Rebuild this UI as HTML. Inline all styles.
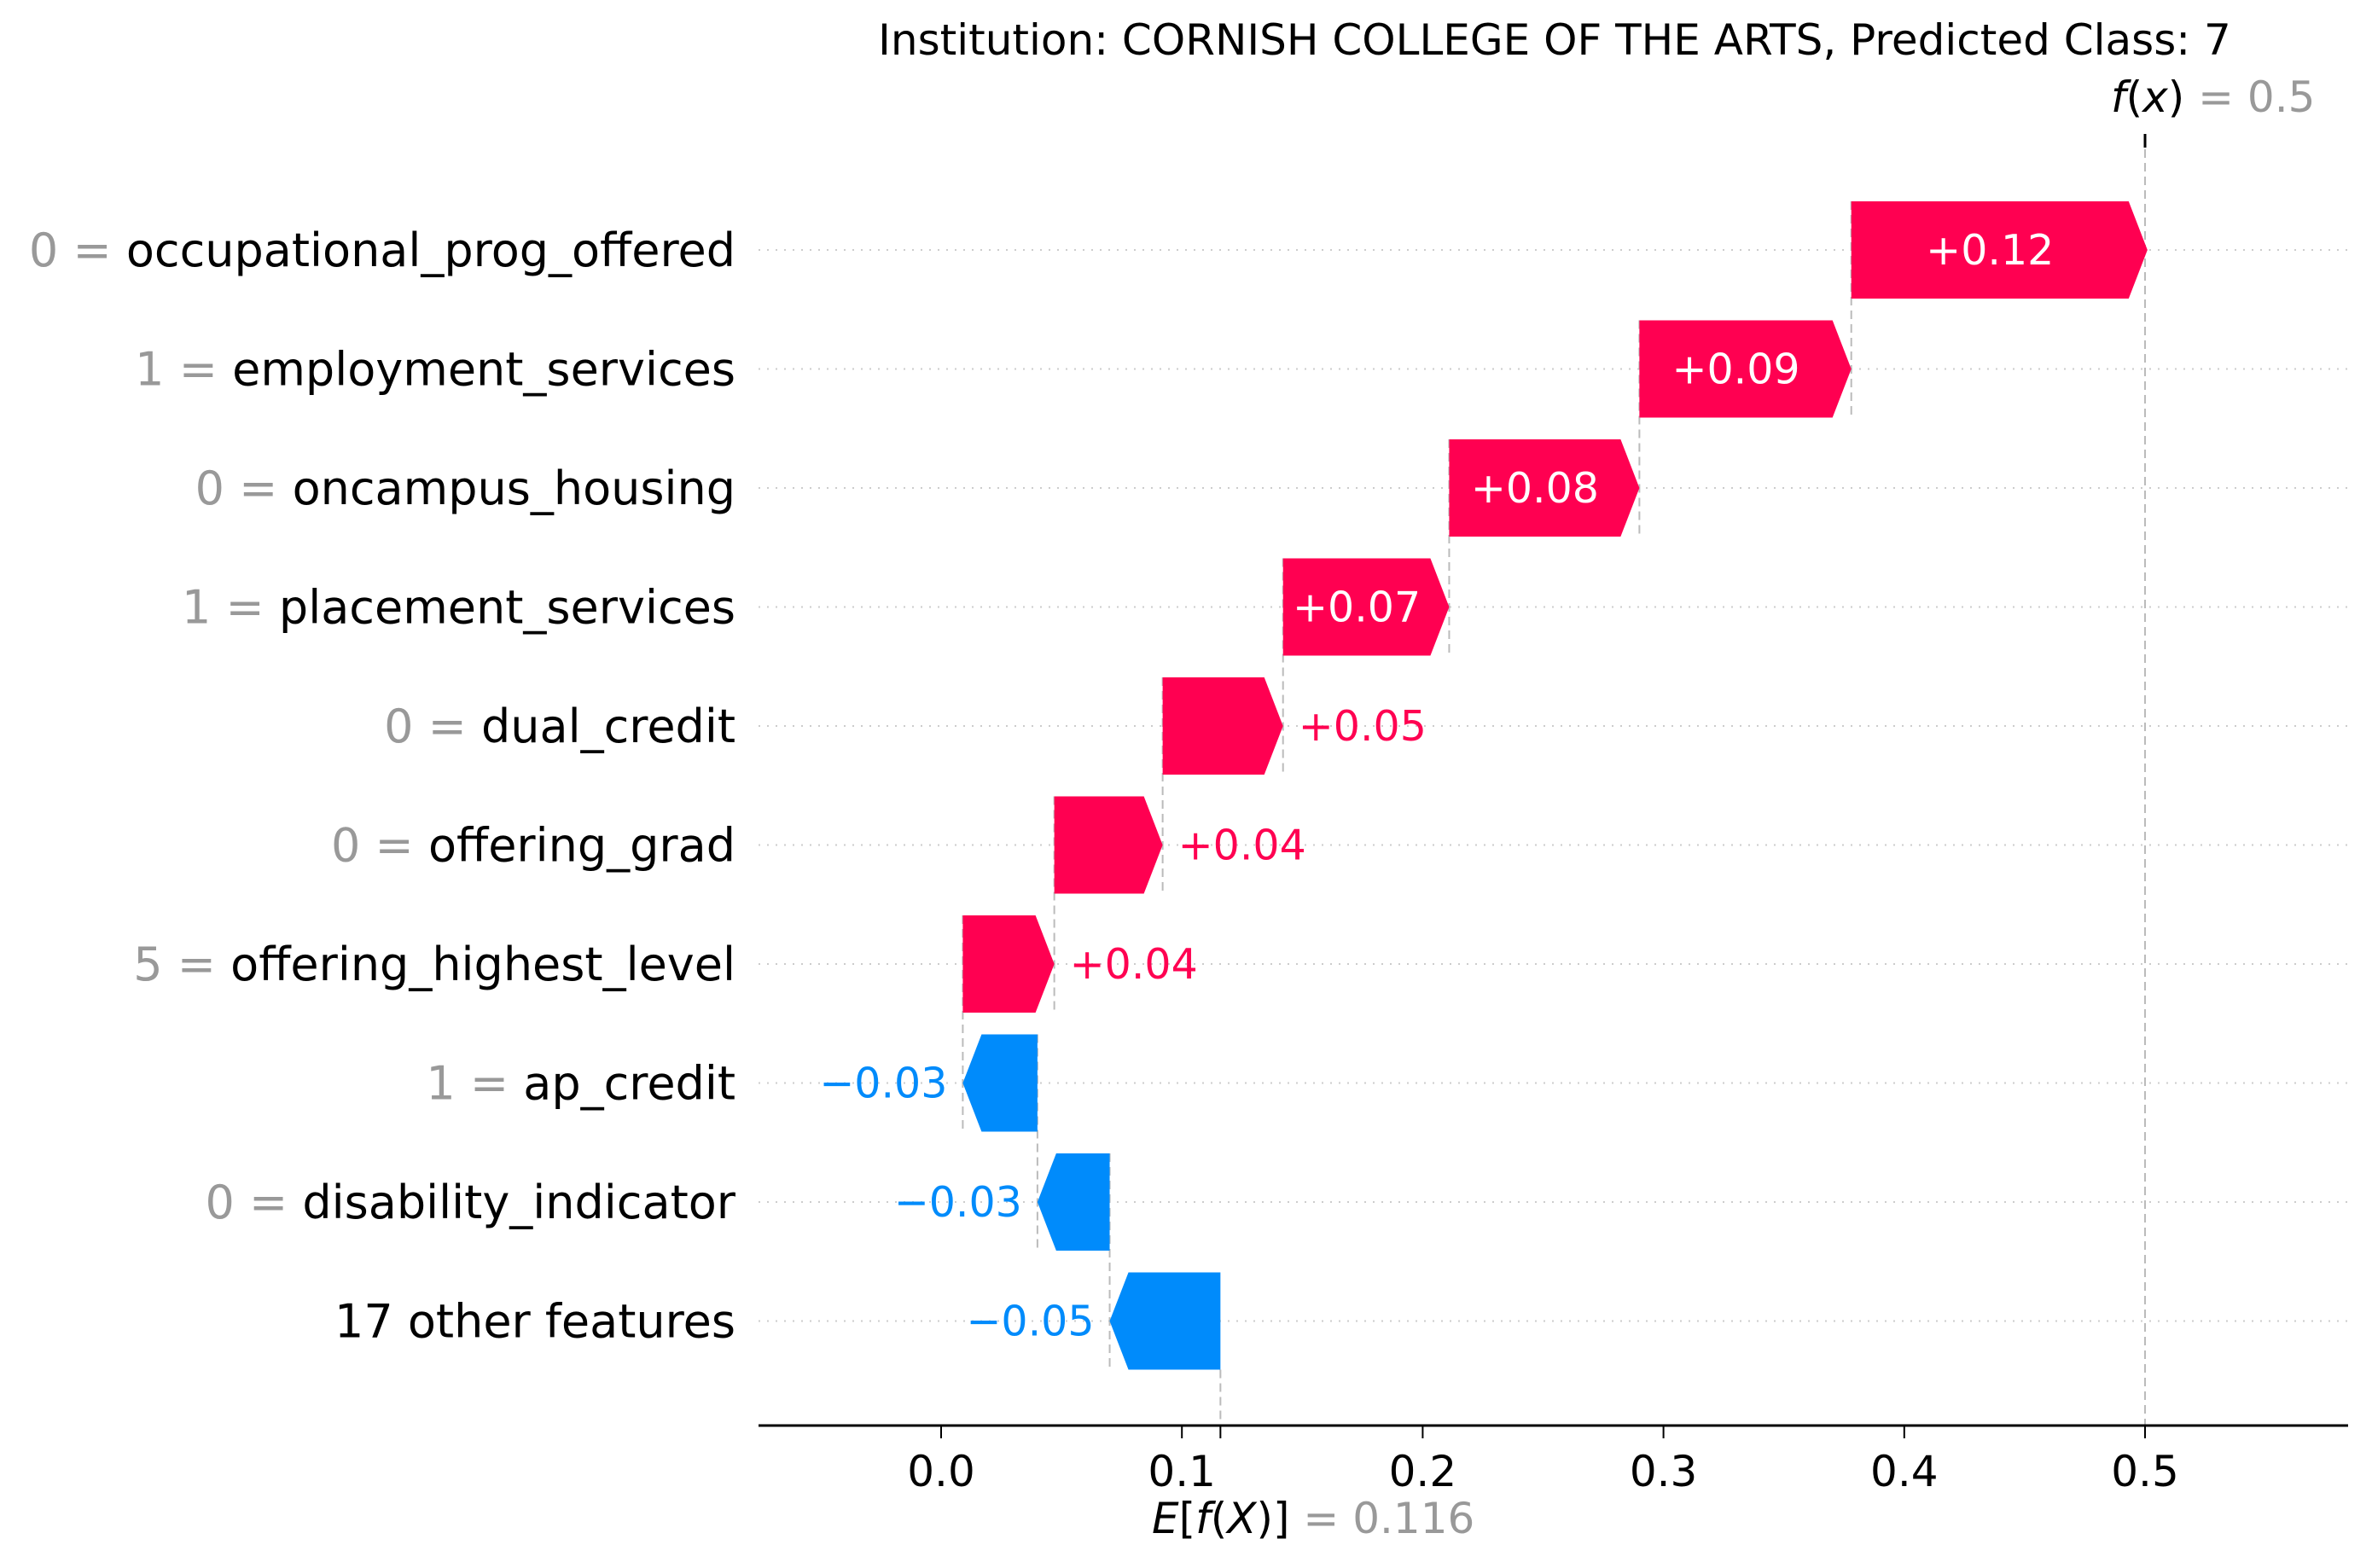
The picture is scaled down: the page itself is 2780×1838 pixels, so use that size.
<!DOCTYPE html>
<html><head><meta charset="utf-8"><style>
html,body{margin:0;padding:0;background:#fff}
svg{display:block;font-family:"DejaVu Sans","Liberation Sans",sans-serif}
</style></head><body>
<svg id="chart" width="2780" height="1838" viewBox="0 0 2780 1838" xmlns="http://www.w3.org/2000/svg">
<text x="1822" y="64" font-size="50" text-anchor="middle">Institution: CORNISH COLLEGE OF THE ARTS, Predicted Class: 7</text>
<g id="rows"></g>
<g id="axis"></g>
</svg>
<script>
const featureValues = ["0","1","0","1","0","0","5","1","0",""];
const featureNames = ["occupational_prog_offered","employment_services","oncampus_housing","placement_services","dual_credit","offering_grad","offering_highest_level","ap_credit","disability_indicator","17 other features"];
const shapValues = [0.123,0.088,0.079,0.069,0.050,0.045,0.038,-0.031,-0.030,-0.046];
const valueLabels = ["+0.12","+0.09","+0.08","+0.07","+0.05","+0.04","+0.04","\u22120.03","\u22120.03","\u22120.05"];
const baseValue = 0.116;
const fxValue = 0.5;
const tickValues = [0.0,0.1,0.2,0.3,0.4,0.5];

const NS = "http://www.w3.org/2000/svg";
const X0 = 1103, PX = 2822;
const xs = v => X0 + v * PX;
const rowY = i => 293 + i * 139.5;
const BH = 114;
const AXY = 1671;
const rows = document.getElementById('rows');
const axis = document.getElementById('axis');
function mk(tag, attrs, parent, txt) {
  const e = document.createElementNS(NS, tag);
  for (const k in attrs) e.setAttribute(k, attrs[k]);
  if (txt !== undefined) e.textContent = txt;
  parent.appendChild(e);
  return e;
}
const n = shapValues.length;
const ends = new Array(n), starts = new Array(n);
let cur = baseValue;
for (let i = n - 1; i >= 0; i--) { starts[i] = cur; cur += shapValues[i]; ends[i] = cur; }

for (let i = 0; i < n; i++) {
  const g = mk('line', {x1: 889, x2: 2752, y1: rowY(i), y2: rowY(i), stroke: '#ccc', 'stroke-width': 2, 'stroke-dasharray': '2 8'}, rows);
  
  
}
const fl = mk('line', {x1: xs(fxValue), x2: xs(fxValue), y1: 175, y2: AXY, stroke: '#bbb', 'stroke-width': 2, 'stroke-dasharray': '10 6'}, rows);


const ftick = mk('line', {x1: xs(fxValue), x2: xs(fxValue), y1: 157, y2: 173, stroke: '#000', 'stroke-width': 3}, rows);


const el = mk('line', {x1: xs(baseValue), x2: xs(baseValue), y1: rowY(n - 1) + BH / 2, y2: AXY, stroke: '#bbb', 'stroke-width': 2, 'stroke-dasharray': '10 6'}, rows);


for (let i = 0; i < n - 1; i++) {
  const c = mk('line', {x1: xs(starts[i]), x2: xs(starts[i]), y1: rowY(i) - BH / 2, y2: rowY(i + 1) + BH / 2, stroke: '#bbb', 'stroke-width': 2, 'stroke-dasharray': '10 6'}, rows);
  
  
}
for (let i = 0; i < n; i++) {
  const y = rowY(i), v = shapValues[i];
  const a = xs(starts[i]), b = xs(ends[i]);
  const pos = v >= 0;
  const w = Math.abs(b - a);
  const hl = Math.min(22, w * 0.5);
  const top = y - BH / 2, bot = y + BH / 2;
  let pts;
  if (pos) pts = [[a, top], [b - hl, top], [b, y], [b - hl, bot], [a, bot]];
  else pts = [[a, top], [b + hl, top], [b, y], [b + hl, bot], [a, bot]];
  const p = mk('polygon', {points: pts.map(q => q.join(',')).join(' '), fill: pos ? '#ff0051' : '#008bfb'}, rows);
  
  
  const color = pos ? '#ff0051' : '#008bfb';
  let t;
  if (w > 190) {
    t = mk('text', {x: (a + b) / 2 - (pos ? hl / 2 : -hl / 2), y: y + 17, 'font-size': 49, fill: '#fff', 'text-anchor': 'middle'}, rows, valueLabels[i]);
  } else if (pos) {
    t = mk('text', {x: b + 18, y: y + 17, 'font-size': 49, fill: color, 'text-anchor': 'start'}, rows, valueLabels[i]);
  } else {
    t = mk('text', {x: b - 18, y: y + 17, 'font-size': 49, fill: color, 'text-anchor': 'end'}, rows, valueLabels[i]);
  }
  
  
  const lab = mk('text', {x: 862, y: y + 19, 'font-size': 54, 'text-anchor': 'end'}, rows);
  
  
  if (featureValues[i] !== "") {
    mk('tspan', {fill: '#999'}, lab, featureValues[i] + ' = ');
  }
  mk('tspan', {fill: '#000'}, lab, featureNames[i]);
}
const al = mk('line', {x1: 889, x2: 2752, y1: AXY, y2: AXY, stroke: '#000', 'stroke-width': 3}, axis);


for (const tv of tickValues) {
  const tk = mk('line', {x1: xs(tv), x2: xs(tv), y1: AXY, y2: AXY + 15, stroke: '#000', 'stroke-width': 2}, axis);
  
  
  const tl = mk('text', {x: xs(tv), y: 1742, 'font-size': 50, 'text-anchor': 'middle'}, axis, tv.toFixed(1));
  
  
}
const bt = mk('line', {x1: xs(baseValue), x2: xs(baseValue), y1: AXY, y2: AXY + 15, stroke: '#000', 'stroke-width': 2}, axis);


const et = mk('text', {x: 1350, y: 1797, 'font-size': 50}, axis);


mk('tspan', {'font-style': 'italic'}, et, 'E');
mk('tspan', {}, et, '[');
mk('tspan', {'font-style': 'italic'}, et, 'f');
mk('tspan', {}, et, '(');
mk('tspan', {'font-style': 'italic'}, et, 'X');
mk('tspan', {}, et, ')]');
mk('tspan', {fill: '#999'}, et, ' = ' + baseValue.toFixed(3));
const ft = mk('text', {x: xs(fxValue) - 40, y: 131, 'font-size': 50}, axis);


mk('tspan', {'font-style': 'italic'}, ft, 'f');
mk('tspan', {}, ft, '(');
mk('tspan', {'font-style': 'italic'}, ft, 'x');
mk('tspan', {}, ft, ')');
mk('tspan', {fill: '#999'}, ft, ' = ' + fxValue);
</script>
</body></html>
